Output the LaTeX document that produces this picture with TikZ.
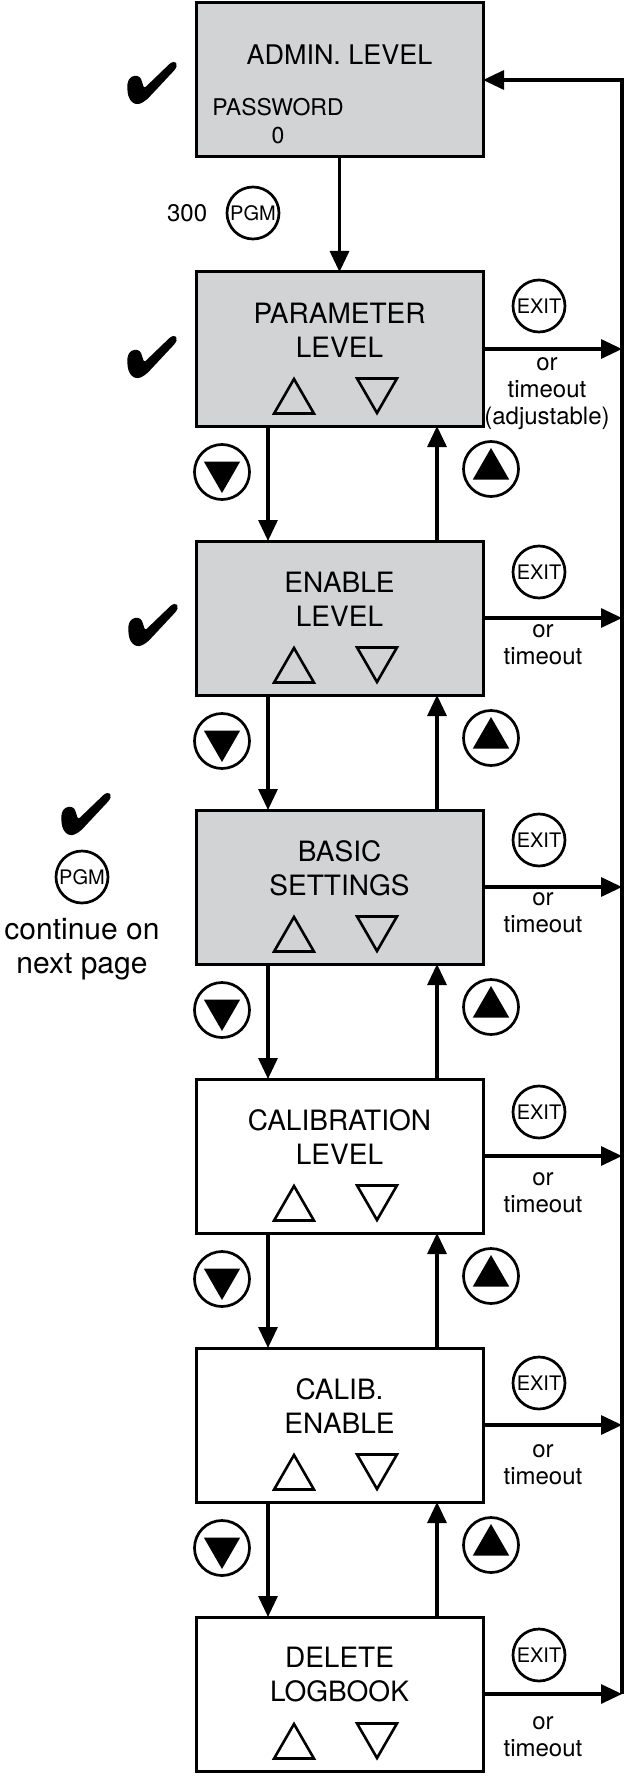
\documentclass[tikz,border=0pt]{standalone}
\usepackage{fontspec}
\setmainfont{TeX Gyre Heros}
\usetikzlibrary{arrows.meta,positioning,shapes.geometric}
\definecolor{panelgray}{RGB}{209,211,212}

\begin{document}
\begin{tikzpicture}[
    x=1pt, y=-1pt,
    >={Triangle[length=21pt,width=19pt]},
    node distance=115pt,
    level/.style={draw, line width=3pt, minimum width=287pt, minimum height=154pt, inner sep=0pt, outer sep=0pt, fill=white},
    shaded/.style={level, fill=panelgray},
    boxtext/.style={font=\fontsize{28}{34}\selectfont, align=center, inner sep=0pt},
    button/.style={draw, circle, line width=2.7pt, minimum size=52pt, inner sep=0pt, font=\fontsize{20}{20}\selectfont},
    arrowbtn/.style={button, minimum size=55pt},
    outlinetri/.style={draw, regular polygon, regular polygon sides=3, line width=2.6pt, minimum size=46pt, inner sep=0pt},
    filledtri/.style={fill, regular polygon, regular polygon sides=3, minimum size=42pt, inner sep=0pt},
    sidetext/.style={font=\fontsize{24}{27}\selectfont, align=center, inner sep=0pt, anchor=north},
    flow/.style={->, line width=3.2pt},
    checkmark/.pic={\fill[rounded corners=2.5pt] (-25,2.5) -- (-23,-4.5) -- (-18,-7.5) -- (-12,-6.5) -- (-10,-1.5) -- (-8,5.5) -- (19,-20.5) -- (23,-21.5) -- (25,-18.5) -- (24,-14.5) -- (-5,16.5) -- (-11,20.5) -- (-16,21.5) -- (-21,18.5) -- (-24,12.5) -- cycle;}
]
\useasboundingbox (0,0) rectangle (626,1776);

% Menu levels
\node[shaded] (admin) at (339.5,80) {};
\node[shaded, below=of admin] (param) {};
\node[shaded, below=of param] (enable) {};
\node[shaded, below=of enable] (basic) {};
\node[level, below=of basic] (calib) {};
\node[level, below=of calib] (calen) {};
\node[level, below=of calen] (dellog) {};

% Level texts
\node[boxtext, font=\fontsize{27}{32}\selectfont] (admintxt) at ([yshift=-52pt]admin.north) {ADMIN. LEVEL};
\node[boxtext, font=\fontsize{23}{28}\selectfont] (pwtxt) at ([xshift=82pt,yshift=-118pt]admin.north west) {PASSWORD\\0};
\node[boxtext] (paramtxt) at ([yshift=-58pt]param.north) {PARAMETER\\LEVEL};
\node[boxtext] (enabletxt) at ([yshift=-58pt]enable.north) {ENABLE\\LEVEL};
\node[boxtext] (basictxt) at ([yshift=-58pt]basic.north) {BASIC\\SETTINGS};
\node[boxtext] (calibtxt) at ([yshift=-58pt]calib.north) {CALIBRATION\\LEVEL};
\node[boxtext] (calentxt) at ([yshift=-58pt]calen.north) {CALIB.\\ENABLE};
\node[boxtext] (dellogtxt) at ([yshift=-58pt]dellog.north) {DELETE\\LOGBOOK};

% Up/down symbols on the display
\node[outlinetri] (paramup) at ([xshift=98pt,yshift=-130pt]param.north west) {};
\node[outlinetri, shape border rotate=180] (paramdn) at ([xshift=181pt,yshift=-118pt]param.north west) {};
\node[outlinetri] (enableup) at ([xshift=98pt,yshift=-130pt]enable.north west) {};
\node[outlinetri, shape border rotate=180] (enabledn) at ([xshift=181pt,yshift=-118pt]enable.north west) {};
\node[outlinetri] (basicup) at ([xshift=98pt,yshift=-130pt]basic.north west) {};
\node[outlinetri, shape border rotate=180] (basicdn) at ([xshift=181pt,yshift=-118pt]basic.north west) {};
\node[outlinetri] (calibup) at ([xshift=98pt,yshift=-130pt]calib.north west) {};
\node[outlinetri, shape border rotate=180] (calibdn) at ([xshift=181pt,yshift=-118pt]calib.north west) {};
\node[outlinetri] (calenup) at ([xshift=98pt,yshift=-130pt]calen.north west) {};
\node[outlinetri, shape border rotate=180] (calendn) at ([xshift=181pt,yshift=-118pt]calen.north west) {};
\node[outlinetri] (dellogup) at ([xshift=98pt,yshift=-130pt]dellog.north west) {};
\node[outlinetri, shape border rotate=180] (dellogdn) at ([xshift=181pt,yshift=-118pt]dellog.north west) {};

% Entry keys
\node[button] (pgmadmin) at (253,213) {PGM};
\node[font=\fontsize{24}{24}\selectfont, left=15pt of pgmadmin] (count) {300};
\pic at (152,83) {checkmark};
\pic at (152,357) {checkmark};
\pic at (153,625) {checkmark};
\pic at (86,814) {checkmark};
\node[button] (pgmnext) at (82,877) {PGM};
\node[font=\fontsize{30}{34}\selectfont, align=center, inner sep=0pt, below=14pt of pgmnext] (cont) {continue on\\next page};

% Arrow keys between levels
\node[arrowbtn] (dnkey1) at ([xshift=26pt,yshift=-46pt]param.south west) {};
\node[arrowbtn] (upkey1) at ([xshift=8pt,yshift=-43pt]param.south east) {};
\node[arrowbtn] (dnkey2) at ([xshift=26pt,yshift=-46pt]enable.south west) {};
\node[arrowbtn] (upkey2) at ([xshift=8pt,yshift=-43pt]enable.south east) {};
\node[arrowbtn] (dnkey3) at ([xshift=26pt,yshift=-46pt]basic.south west) {};
\node[arrowbtn] (upkey3) at ([xshift=8pt,yshift=-43pt]basic.south east) {};
\node[arrowbtn] (dnkey4) at ([xshift=26pt,yshift=-46pt]calib.south west) {};
\node[arrowbtn] (upkey4) at ([xshift=8pt,yshift=-43pt]calib.south east) {};
\node[arrowbtn] (dnkey5) at ([xshift=26pt,yshift=-46pt]calen.south west) {};
\node[arrowbtn] (upkey5) at ([xshift=8pt,yshift=-43pt]calen.south east) {};
\node[filledtri, shape border rotate=180] (dntri1) at (dnkey1) {};
\node[filledtri] (uptri1) at (upkey1) {};
\node[filledtri, shape border rotate=180] (dntri2) at (dnkey2) {};
\node[filledtri] (uptri2) at (upkey2) {};
\node[filledtri, shape border rotate=180] (dntri3) at (dnkey3) {};
\node[filledtri] (uptri3) at (upkey3) {};
\node[filledtri, shape border rotate=180] (dntri4) at (dnkey4) {};
\node[filledtri] (uptri4) at (upkey4) {};
\node[filledtri, shape border rotate=180] (dntri5) at (dnkey5) {};
\node[filledtri] (uptri5) at (upkey5) {};

% Exit keys and notes
\node[button] (exit1) at ([xshift=56pt,yshift=43pt]param.east) {EXIT};
\node[button] (exit2) at ([xshift=56pt,yshift=46pt]enable.east) {EXIT};
\node[button] (exit3) at ([xshift=56pt,yshift=47pt]basic.east) {EXIT};
\node[button] (exit4) at ([xshift=56pt,yshift=44pt]calib.east) {EXIT};
\node[button] (exit5) at ([xshift=56pt,yshift=42pt]calen.east) {EXIT};
\node[button] (exit6) at ([xshift=56pt,yshift=39pt]dellog.east) {EXIT};
\node[sidetext] (note1) at ([xshift=64pt,yshift=-8pt]param.east) {or\\timeout\\(adjustable)};
\node[sidetext] (note2) at ([xshift=60pt,yshift=-6pt]enable.east) {or\\timeout};
\node[sidetext] (note3) at ([xshift=60pt,yshift=-5pt]basic.east) {or\\timeout};
\node[sidetext] (note4) at ([xshift=60pt,yshift=-16pt]calib.east) {or\\timeout};
\node[sidetext] (note5) at ([xshift=60pt,yshift=-19pt]calen.east) {or\\timeout};
\node[sidetext] (note6) at ([xshift=60pt,yshift=-22pt]dellog.east) {or\\timeout};

% Flows down and up
\draw[flow] (admin) -- (param);
\draw[flow] ([xshift=72pt]param.south west) -- ([xshift=72pt]enable.north west);
\draw[flow] ([xshift=241pt]enable.north west) -- ([xshift=241pt]param.south west);
\draw[flow] ([xshift=72pt]enable.south west) -- ([xshift=72pt]basic.north west);
\draw[flow] ([xshift=241pt]basic.north west) -- ([xshift=241pt]enable.south west);
\draw[flow] ([xshift=72pt]basic.south west) -- ([xshift=72pt]calib.north west);
\draw[flow] ([xshift=241pt]calib.north west) -- ([xshift=241pt]basic.south west);
\draw[flow] ([xshift=72pt]calib.south west) -- ([xshift=72pt]calen.north west);
\draw[flow] ([xshift=241pt]calen.north west) -- ([xshift=241pt]calib.south west);
\draw[flow] ([xshift=72pt]calen.south west) -- ([xshift=72pt]dellog.north west);
\draw[flow] ([xshift=241pt]dellog.north west) -- ([xshift=241pt]calen.south west);

% Return rail
\coordinate (railtop) at (622,80);
\coordinate (railbot) at (622,1694);
\draw[flow] (railbot) -- (railtop) -- (admin.east);
\draw[flow] (param.east) -- (param.east -| railtop);
\draw[flow] (enable.east) -- (enable.east -| railtop);
\draw[flow] (basic.east) -- (basic.east -| railtop);
\draw[flow] (calib.east) -- (calib.east -| railtop);
\draw[flow] (calen.east) -- (calen.east -| railtop);
\draw[flow] (dellog.east) -- (dellog.east -| railtop);

\end{tikzpicture}
\end{document}
